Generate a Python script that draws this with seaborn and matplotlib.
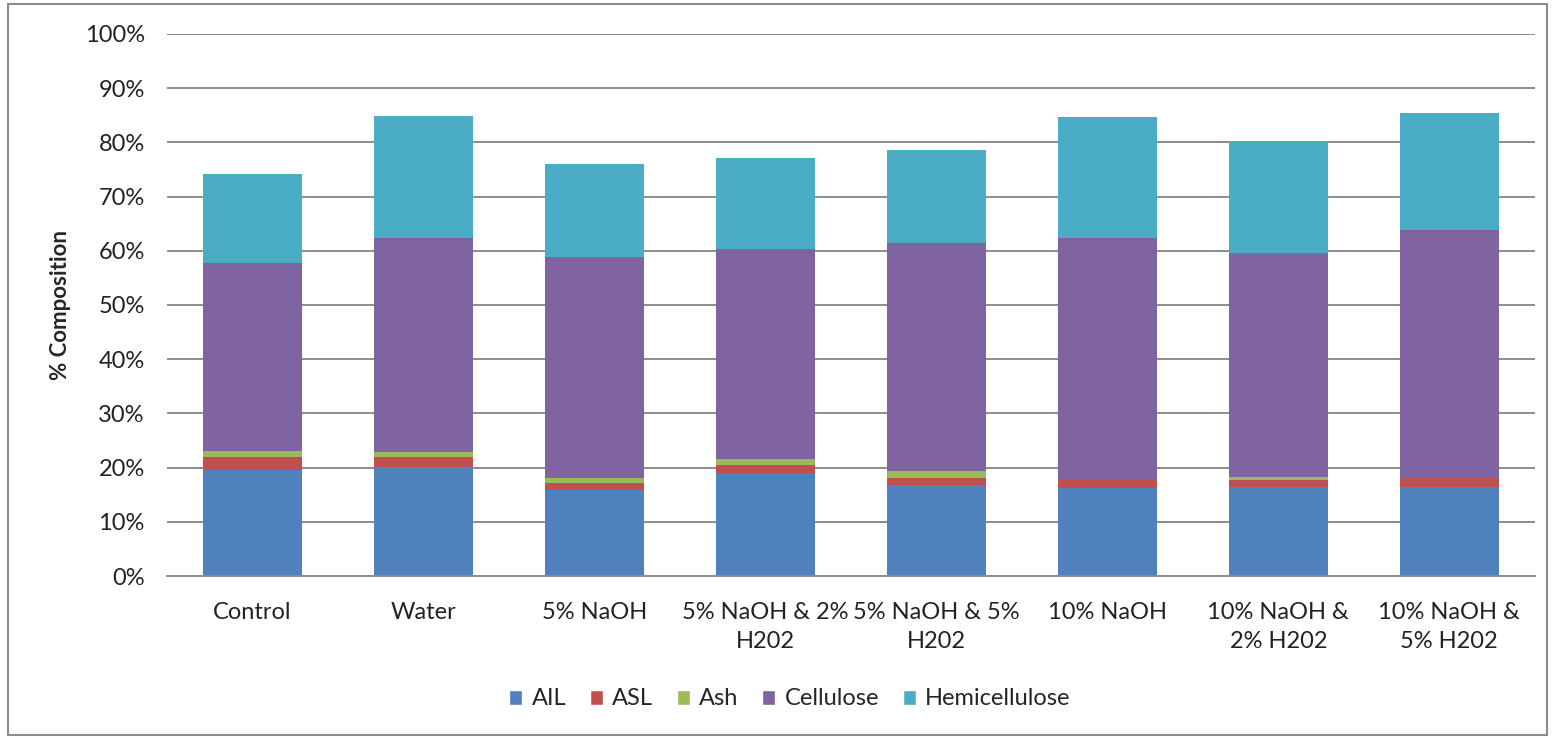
import numpy as np
import pandas as pd
import matplotlib
matplotlib.use("Agg")
import matplotlib.pyplot as plt
import seaborn as sns
from matplotlib.patches import Patch, Rectangle
from matplotlib.ticker import PercentFormatter

# data (percent)
treatments = ["Control", "Water", "5% NaOH", "5% NaOH & 2%\nH202", "5% NaOH & 5%\nH202",
              "10% NaOH", "10% NaOH &\n2% H202", "10% NaOH &\n5% H202"]
ail = [19.6, 20.2, 15.9, 19.0, 16.7, 16.2, 16.4, 16.4]
asl = [2.3, 1.8, 1.2, 1.4, 1.35, 1.6, 1.4, 1.7]
ash = [1.2, 0.8, 1.0, 1.2, 1.25, 0.0, 0.4, 0.0]
cellulose = [34.6, 39.5, 40.7, 38.7, 42.1, 44.6, 41.4, 45.8]
hemicellulose = [16.4, 22.6, 17.2, 16.9, 17.2, 22.3, 20.4, 21.5]

components = ["AIL", "ASL", "Ash", "Cellulose", "Hemicellulose"]
colors = ["#4F81BD", "#C0504D", "#9BBB59", "#8064A2", "#4BACC6"]

df = pd.DataFrame({"Treatment": treatments, "AIL": ail, "ASL": asl, "Ash": ash,
                   "Cellulose": cellulose, "Hemicellulose": hemicellulose})
cum = df[components].cumsum(axis=1)

sns.set_style("white")
plt.rcParams["font.family"] = ["Lato", "DejaVu Sans"]

fig = plt.figure(figsize=(15.55, 7.38), dpi=100)
ax = fig.add_axes([0.1074, 0.2195, 0.8796, 0.7345])

# stacked bars: draw cumulative totals from top layer down
for comp, col in reversed(list(zip(components, colors))):
    sns.barplot(x=df["Treatment"], y=cum[comp], color=col, width=0.58,
                saturation=1, linewidth=0, ax=ax, zorder=2)

ax.set_ylim(0, 100)
ax.set_yticks(np.arange(0, 101, 10))
ax.yaxis.set_major_formatter(PercentFormatter(decimals=0))
ax.grid(axis="y", color="#8C8C8C", linewidth=1.4, zorder=0)
ax.set_axisbelow(True)
for s in ["top", "right", "left"]:
    ax.spines[s].set_visible(False)
ax.spines["bottom"].set_color("#8C8C8C")
ax.spines["bottom"].set_linewidth(1.4)
ax.tick_params(axis="both", length=0, labelsize=17, colors="#222222")
ax.tick_params(axis="y", pad=16)
ax.tick_params(axis="x", pad=19)
for t in ax.get_xticklabels():
    t.set_linespacing(1.45)
ax.set_xlabel("")
ax.set_ylabel("% Composition", fontsize=16, fontweight="bold")
ax.yaxis.set_label_coords(-0.07, 0.5)

handles = [Patch(facecolor=c, label=l) for l, c in zip(components, colors)]
fig.legend(handles=handles, loc="center", bbox_to_anchor=(0.508, 0.053), ncol=5,
           frameon=False, fontsize=17, handlelength=0.55, handleheight=0.6,
           handletextpad=0.4, columnspacing=1.0)

fig.patches.append(Rectangle((0.005, 0.004), 0.99, 0.99, transform=fig.transFigure,
                             fill=False, edgecolor="#8C8C8C", linewidth=1.5))

fig.savefig("out.png", dpi=100)
